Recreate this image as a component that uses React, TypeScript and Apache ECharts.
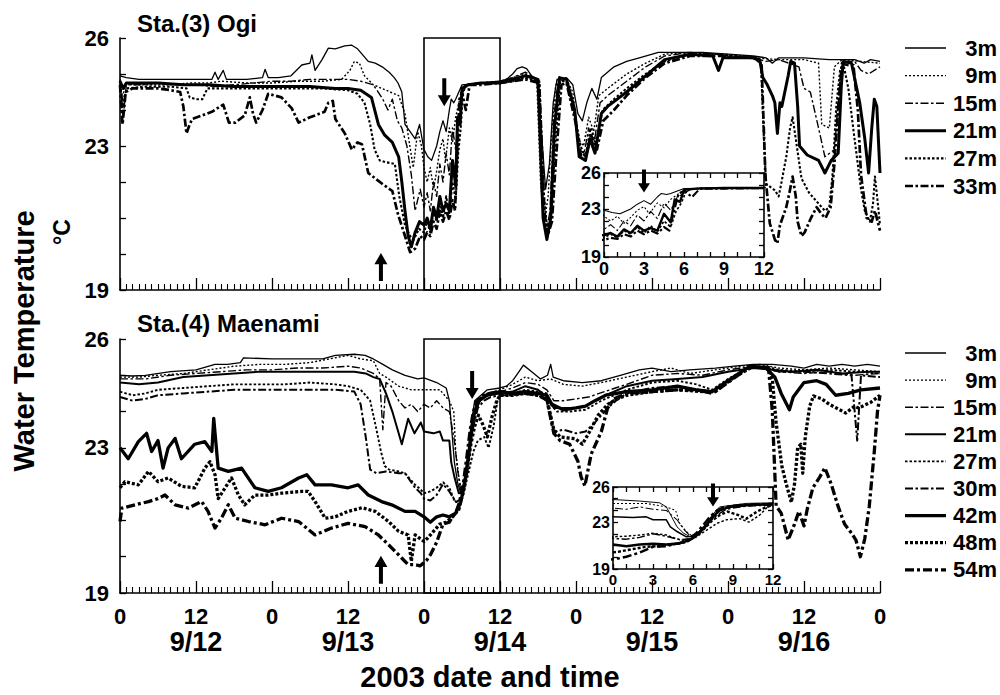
import React, { useEffect, useRef } from 'react';
import * as echarts from 'echarts';

const FONT = '"Liberation Sans", Arial, Helvetica, sans-serif';

// ---------------- Sta.(3) Ogi : [hour from 9/12 0:00, water temperature °C]
const ogiDepths = ['3m', '9m', '15m', '21m', '27m', '33m'];

const ogi3m = [[0,24.95],[1,24.9],[3,24.85],[6,24.85],[9,24.85],[12,24.85],[14.5,24.85],[15,25.05],[15.5,24.85],[16.3,25.1],[16.8,24.85],[20,24.85],[22.5,24.9],[22.9,25.13],[23.4,24.9],[25,24.9],[27,24.95],[28.7,25.25],[30,25.3],[30.3,25.53],[30.8,25.1],[31.9,25.4],[32.9,25.72],[34,25.7],[35.5,25.78],[36.6,25.8],[37.5,25.7],[39.2,25.35],[40.3,25.3],[41.4,25.2],[42.5,25.05],[43.3,24.9],[43.9,24.75],[44.5,24.5],[45,23.6],[46,23.35],[46.6,23.2],[47.3,23.6],[48,22.9],[48.6,22.7],[49.2,22.6],[50,23.0],[50.5,23.4],[51,23.7],[51.5,23.4],[52,24.0],[52.3,24.3],[52.7,24.2],[53,24.3],[53.5,24.5],[54,24.7],[57,24.75],[60,24.8],[61,24.85],[62,25.0],[62.7,25.15],[63.5,25.2],[64.2,25.15],[65,24.95],[65.8,24.85],[66.5,23.5],[67.2,21.8],[67.8,22.5],[68.4,24.2],[69,24.85],[70.5,24.9],[71.5,24.7],[72.3,23.9],[73,23.7],[73.7,24.2],[74.5,24.6],[75.3,24.3],[76,24.9],[78,25.2],[80,25.35],[82,25.45],[85,25.6],[88,25.6],[92,25.6],[96,25.55],[100,25.5],[102,25.45],[103,25.3],[104,25.45],[108,25.45],[112,25.4],[116,25.4],[117.5,25.3],[118.5,25.4],[120,25.35]];

const ogi9m = [[0,24.8],[0.4,24.3],[0.8,24.75],[2,24.7],[5,24.7],[8,24.7],[11,24.75],[14,24.75],[16,24.8],[20,24.75],[24,24.75],[28,24.8],[32,24.8],[35,24.85],[36.3,25.1],[37,25.35],[37.8,25.3],[38.6,24.95],[40,24.7],[42,24.55],[44,24.4],[45,23.9],[45.5,23.3],[46.3,22.4],[47,23.4],[47.6,23.0],[48,22.4],[48.5,22.0],[49,22.4],[49.5,21.8],[50,22.3],[50.5,22.9],[51,23.2],[51.4,22.6],[52,23.5],[52.5,23.1],[53,23.8],[53.5,24.2],[54,24.5],[54.5,24.7],[57,24.75],[60,24.8],[62,24.9],[64,25.0],[65.8,24.85],[66.4,22.0],[67,20.9],[67.6,21.6],[68.2,23.5],[68.8,24.7],[70.5,24.85],[71.5,24.5],[72.3,23.2],[73.2,23.0],[74,23.8],[74.8,23.4],[75.6,24.4],[77,24.6],[80,25.0],[83,25.3],[86,25.55],[90,25.6],[94,25.55],[96,25.5],[100,25.45],[104,25.4],[108,25.4],[110.3,25.3],[110.8,23.6],[112,23.5],[112.8,25.2],[114,25.4],[117,25.35],[120,25.3]];

const ogi15m = [[0,24.85],[0.5,23.8],[1,24.7],[3,24.7],[6,24.75],[9,24.7],[12,24.7],[15,24.65],[18,24.7],[21,24.75],[24,24.8],[27,24.8],[30,24.85],[33,24.85],[36,24.85],[38,24.8],[40,24.7],[41.5,24.3],[42.3,24.0],[43,24.3],[43.8,23.7],[44.5,23.5],[45.3,23.0],[46,22.2],[46.6,21.2],[47.4,21.8],[48,21.3],[48.5,21.7],[49,21.2],[49.5,22.0],[50,21.6],[50.5,22.5],[51,22.0],[51.5,22.8],[52,22.2],[52.5,23.5],[53,22.9],[53.5,24.0],[54,24.3],[54.6,24.7],[57,24.75],[60,24.8],[62,24.9],[64,25.05],[66,24.85],[66.6,21.5],[67.3,20.6],[67.9,21.2],[68.5,23.8],[69.2,24.85],[70.5,24.8],[71.6,24.2],[72.4,22.9],[73.3,22.8],[74,23.5],[74.8,23.0],[75.8,24.2],[77,24.4],[80,24.8],[83,25.2],[86,25.5],[90,25.6],[94,25.55],[100,25.45],[102,25.35],[104,25.4],[107.2,25.2],[108,24.6],[109,24.5],[110.3,23.5],[111.3,22.7],[112.8,22.9],[113.7,24.8],[114.2,25.35],[116,25.35],[117,25.1],[118.2,25.0],[120,25.2]];

const ogi21m = [[0,24.8],[0.5,24.6],[1,24.75],[3,24.75],[6,24.75],[10,24.7],[14,24.7],[18,24.65],[22,24.65],[26,24.65],[30,24.65],[34,24.6],[36,24.6],[38,24.55],[39.7,24.35],[40.8,23.6],[41.8,23.3],[43,23.1],[44,22.7],[44.5,22.0],[45,21.2],[45.5,20.5],[46,20.2],[46.6,20.6],[47.3,20.9],[48,20.8],[48.5,21.0],[49,20.7],[49.5,21.3],[50,21.0],[50.5,21.6],[51,21.2],[51.5,21.4],[52,21.2],[52.5,22.6],[53,21.9],[53.3,23.8],[53.7,23.6],[54,24.6],[55,24.7],[57,24.75],[60,24.75],[62,24.85],[64,24.95],[66,24.85],[66.8,21.0],[67.4,20.4],[68,21.0],[68.6,23.5],[69.4,24.9],[70.5,24.85],[71.8,24.0],[72.5,22.7],[73.5,22.6],[74.2,23.2],[75,22.8],[76,23.9],[77,24.1],[80,24.5],[83,24.95],[86,25.4],[90,25.55],[93.6,25.5],[94.5,25.1],[95.2,25.45],[100,25.45],[101,25.4],[101.5,24.9],[102.2,24.7],[103,24.4],[103.4,24.2],[103.8,23.35],[104.2,24.2],[104.5,24.1],[105.5,24.95],[105.9,25.35],[106.5,25.3],[107,24.1],[107.3,23.0],[108.5,22.75],[110.3,22.6],[111.3,22.25],[112.3,22.6],[113.4,22.8],[113.9,24.7],[114.2,25.35],[115.5,25.3],[116.8,24.2],[117.6,23.2],[118.2,22.25],[118.7,23.5],[119.1,24.3],[119.5,24.1],[120,22.25]];

const ogi27m = [[0,24.7],[0.5,24.1],[1,24.6],[4,24.65],[8,24.65],[10.5,24.6],[11,24.35],[12,24.3],[13,24.3],[13.8,24.6],[16,24.6],[20,24.6],[24,24.6],[28,24.6],[32,24.6],[36,24.55],[37.5,24.45],[38.6,24.2],[39.5,23.6],[40.2,22.9],[41,22.6],[42,22.55],[43.4,22.5],[44.1,21.6],[45,20.8],[45.8,20.5],[46.4,20.4],[47.2,20.7],[48,20.6],[48.5,20.9],[49,20.6],[49.5,21.2],[50,20.9],[50.5,21.5],[51,21.0],[51.5,21.6],[52,21.1],[52.5,22.0],[53,21.5],[53.4,22.8],[53.8,23.5],[54.2,24.6],[55,24.7],[57,24.75],[60,24.75],[62,24.8],[64,24.9],[66.2,24.8],[66.9,21.7],[67.5,20.6],[68.1,21.0],[68.7,23.0],[69.5,24.8],[70.5,24.8],[71.9,23.8],[72.7,23.0],[73.5,22.7],[74.3,23.5],[75.2,23.1],[76.2,24.0],[78,24.3],[80,24.6],[83,25.0],[86,25.35],[90,25.55],[95,25.55],[100,25.45],[101.2,25.3],[101.6,23.5],[102,21.95],[103.4,21.77],[104,21.6],[104.4,21.95],[105.2,22.7],[105.8,23.5],[106.2,23.8],[106.7,23.2],[107.6,22.1],[108.8,21.7],[110.3,21.4],[111.3,21.2],[112,21.3],[112.5,22.2],[113.1,24.1],[113.7,25.1],[114.2,25.3],[115,24.6],[116,23.17],[117,21.8],[117.6,21.2],[118.4,20.9],[118.9,21.4],[119.2,22.15],[119.6,21.5],[120,20.8]];

const ogi33m = [[0,24.7],[0.4,23.6],[0.9,24.5],[2,24.6],[4,24.6],[6,24.6],[8,24.55],[9.5,24.5],[10,24.1],[10.5,23.35],[11,23.6],[11.4,23.75],[13,23.85],[14.5,23.95],[16.3,24.15],[17.2,23.65],[18.2,23.65],[19.7,23.85],[20.5,24.35],[21,23.9],[21.5,23.65],[22.5,24.0],[23.4,24.45],[25.5,24.35],[27.1,24.05],[28.2,23.65],[30,23.8],[30.8,23.85],[32.3,23.95],[32.9,24.2],[33.6,24.25],[34,23.75],[35.5,23.35],[36.6,22.9],[37.5,23.1],[38.2,23.05],[39.2,22.25],[40.3,22.1],[41.4,21.95],[43,21.75],[43.9,21.1],[45,20.5],[45.8,20.05],[46.6,20.15],[47.4,20.5],[48,20.4],[48.5,20.6],[49,20.5],[49.5,20.9],[50,20.7],[50.5,21.2],[51,20.9],[51.5,21.2],[52,20.95],[52.5,21.5],[52.9,21.2],[53.2,22.6],[53.6,24.3],[54,24.5],[54.6,24.0],[55.2,24.7],[57,24.7],[60,24.75],[62,24.8],[64,24.85],[66.2,24.75],[67,21.2],[67.5,20.5],[68.2,20.9],[68.9,22.8],[69.7,24.7],[70.5,24.75],[72,23.6],[72.8,22.7],[73.7,22.8],[74.4,23.3],[75.3,22.9],[76.3,23.7],[78,24.0],[80,24.4],[83,24.9],[86,25.3],[90,25.5],[95,25.5],[100,25.45],[101.3,25.3],[101.9,22.2],[102.6,20.85],[103.4,20.4],[103.8,20.3],[104.2,20.8],[105.2,21.3],[105.7,21.7],[106.2,22.15],[106.7,21.6],[107,20.9],[107.6,20.5],[108.1,20.6],[109.1,21.0],[110,21.3],[110.8,21.1],[111.4,21.0],[112.2,21.3],[112.8,22.5],[113.4,24.1],[114,25.3],[114.8,25.25],[115.8,25.25],[116.5,24.0],[117,22.2],[117.9,21.0],[118.7,20.9],[119.2,21.2],[120,20.65]];

// ---------------- Sta.(4) Maenami
const maeDepths = ['3m', '9m', '15m', '21m', '27m', '30m', '42m', '48m', '54m'];

const mae3m = [[0,25.0],[2,24.98],[4,25.0],[8,25.1],[12,25.15],[15,25.3],[17,25.3],[19,25.35],[19.5,25.48],[24,25.45],[28,25.45],[32,25.45],[34,25.55],[37,25.58],[38.7,25.55],[40,25.45],[41.5,25.3],[43,25.15],[45,25.0],[47,24.9],[48,24.93],[50,24.8],[51.5,24.65],[52,24.3],[52.4,23.45],[52.8,22.6],[53.3,22.05],[53.8,21.75],[54.3,22.05],[55,22.9],[55.5,23.7],[56,24.3],[57,24.45],[58,24.6],[60,24.65],[61,24.7],[62,24.85],[63,25.1],[63.7,25.28],[65,25.1],[66.4,24.9],[67.5,25.0],[68,25.3],[68.4,24.95],[70,24.85],[73,24.8],[76,24.85],[79,25.0],[82,25.15],[84,25.2],[87,25.1],[90,25.15],[94,25.2],[97,25.25],[100,25.3],[103,25.3],[106,25.25],[108,25.2],[110,25.3],[112,25.25],[114,25.3],[116,25.25],[118,25.3],[120,25.25]];

const mae9m = [[0,24.95],[3,24.95],[6,25.0],[10,25.05],[14,25.15],[18,25.25],[22,25.3],[26,25.3],[30,25.35],[33,25.45],[36,25.55],[38,25.45],[40,25.4],[41,25.05],[42,24.95],[44,24.7],[46,24.6],[48,24.6],[50.5,24.6],[52,24.3],[52.7,24.0],[53,22.9],[53.5,22.2],[54,21.75],[54.5,22.2],[55,22.8],[55.5,23.5],[56,24.0],[56.8,24.35],[58,24.5],[60,24.6],[62,24.75],[64,24.95],[66,24.85],[68,24.9],[70,24.75],[73,24.7],[76,24.8],[80,24.95],[84,25.1],[87,25.2],[90,25.05],[94,25.15],[98,25.25],[101,25.3],[104,25.2],[108,25.15],[112,25.2],[116,25.15],[120,25.1]];

const mae15m = [[0,24.9],[4,24.9],[8,25.0],[12,25.05],[16,25.1],[20,25.15],[24,25.15],[28,25.2],[32,25.2],[36,25.25],[38,25.2],[40,25.05],[41,24.9],[41.5,23.5],[42,24.8],[42.8,24.7],[44,24.3],[45,24.1],[46,24.2],[47,24.0],[48,24.2],[49,24.1],[50,24.3],[51,24.1],[52,24.0],[52.8,23.2],[53.3,22.4],[53.8,21.8],[54.4,22.1],[55,22.8],[55.6,23.6],[56.2,24.2],[57,24.4],[58,24.5],[60,24.55],[62,24.65],[64,24.8],[66,24.75],[67.4,24.6],[68.5,24.3],[70,24.3],[72,24.35],[74,24.4],[76.5,24.55],[80,24.75],[84,25.0],[88,25.05],[92,25.0],[96,25.15],[100,25.25],[104,25.1],[108,25.05],[112,25.1],[116,25.0],[120,25.05]];

const mae21m = [[0,24.8],[3,24.75],[6,24.8],[10,24.95],[14,25.0],[18,25.05],[22,25.1],[26,25.1],[30,25.1],[34,25.1],[37,25.1],[38.8,25.05],[40,24.95],[41,24.9],[42,24.5],[43,24.0],[44,23.4],[44.5,23.1],[45.5,23.8],[46.5,23.4],[47.5,23.7],[48,23.45],[49.5,23.4],[50.5,23.45],[51,23.2],[52,23.2],[52.3,22.6],[52.8,22.2],[53.5,21.75],[54.2,21.8],[54.8,22.5],[55.4,23.3],[56,24.0],[57,24.35],[58,24.45],[60,24.5],[62,24.55],[64,24.7],[66,24.6],[67.4,24.4],[68.5,24.1],[70,24.1],[72,24.1],[73.5,24.15],[75,24.3],[76.7,24.45],[80,24.7],[84,24.85],[88,24.9],[92,24.95],[96,25.1],[100,25.2],[103,25.15],[106,25.1],[110,25.15],[114,25.05],[118,25.1],[120,25.1]];

const mae27m = [[0,24.55],[2,24.45],[4,24.5],[6,24.6],[10,24.65],[14,24.7],[18,24.75],[22,24.75],[26,24.75],[30,24.8],[34,24.75],[36,24.7],[38,24.6],[39.5,24.3],[40.5,23.5],[41.2,22.9],[41.8,22.5],[42.5,22.4],[44,22.35],[45,22.3],[46.5,22.0],[47.5,21.85],[48,21.75],[49,21.8],[50,21.9],[51,22.05],[52,21.9],[52.7,21.6],[53.5,21.4],[54.2,21.7],[55,22.3],[55.8,22.9],[56.5,23.2],[57.5,23.3],[58.2,23.0],[59,23.6],[59.6,24.3],[60,24.45],[62,24.5],[64,24.6],[66,24.55],[67.4,24.5],[68,24.2],[69,24.0],[71,24.0],[73.5,24.05],[76,24.3],[78,24.45],[80,24.6],[84,24.8],[88,24.85],[91,24.75],[93.5,24.6],[96,24.9],[99,25.2],[102,25.25],[104,25.15],[108,25.1],[112,25.15],[116,25.1],[120,25.05]];

const mae30m = [[0,24.4],[2,24.3],[4,24.35],[6,24.45],[10,24.5],[14,24.55],[18,24.6],[22,24.6],[26,24.6],[30,24.6],[34,24.6],[37,24.55],[38,24.2],[38.8,23.3],[39.5,22.4],[40.5,22.3],[42,22.35],[44,22.3],[45,22.3],[46.6,21.9],[47.5,21.75],[48,21.6],[49,21.55],[50,21.7],[51,22.0],[52,21.8],[53,21.5],[54,21.6],[54.6,22.2],[55.2,23.0],[55.8,23.6],[56.5,24.1],[57.5,24.3],[58.5,24.4],[60,24.45],[62,24.45],[64,24.5],[66,24.45],[67.4,24.3],[68,23.8],[68.5,23.45],[70,23.5],[72,23.4],[73.5,23.45],[75,23.7],[77,24.1],[78.3,24.3],[80,24.5],[84,24.65],[88,24.7],[91,24.6],[93.5,24.55],[96,24.85],[99,25.2],[102,25.2],[104,25.1],[108,25.1],[112,25.05],[115.5,25.0],[116.4,23.2],[117,25.0],[120,24.95]];

const mae42m = [[0,23.0],[1.3,22.7],[2.9,23.17],[4.2,23.4],[5,22.9],[6,23.2],[6.8,22.44],[7.6,23.0],[8.7,23.26],[9.7,22.7],[11.8,23.1],[13.4,23.17],[14.5,22.9],[14.8,23.81],[15.5,22.44],[17.1,22.35],[19.2,22.44],[21.3,21.9],[23.4,21.8],[25.5,21.9],[28.2,22.17],[29.5,22.26],[30.8,21.98],[33.4,21.98],[36,21.9],[37.6,21.98],[39.2,21.7],[41.3,21.52],[42.9,21.43],[45,21.25],[46.6,21.25],[48,21.1],[49,20.95],[50,21.1],[51,21.15],[52,21.1],[53,21.2],[53.8,21.5],[54.4,22.0],[55,22.7],[55.5,23.5],[56,24.0],[56.7,24.3],[58,24.45],[60,24.55],[62,24.5],[64,24.55],[66,24.5],[67.4,24.45],[68.2,24.2],[70,24.05],[72,24.1],[73.5,24.15],[75,24.3],[76.7,24.45],[80,24.55],[84,24.6],[88,24.7],[91,24.6],[93.5,24.55],[96,24.85],[99.5,25.25],[102,25.2],[103.4,24.95],[104.4,24.5],[105.7,24.05],[106.3,24.4],[108,24.8],[110,24.85],[111.5,24.75],[113,24.45],[115,24.5],[117,24.6],[120,24.65]];

const mae48m = [[0,21.9],[0.8,22.07],[2.9,21.98],[4.5,22.35],[6,22.07],[7.6,22.17],[9.7,21.94],[11.8,21.9],[13.4,22.44],[14.2,22.62],[15,22.26],[15.5,21.6],[16.6,21.9],[17.6,22.17],[18.7,21.7],[19.7,21.43],[21.3,21.7],[23.4,21.7],[25.5,21.75],[28.7,21.8],[29.7,21.8],[30.8,21.52],[32.4,21.06],[34,21.1],[36,21.25],[38.2,21.35],[40.3,21.25],[42.4,20.97],[44,20.7],[45.5,20.6],[46,19.87],[46.6,20.6],[48,20.42],[48.5,20.5],[49.5,20.7],[50.5,20.9],[51.5,20.95],[52.5,21.1],[53.5,21.3],[54.2,21.8],[54.8,22.4],[55.4,23.1],[56,23.6],[56.6,23.9],[57.4,23.6],[58,23.3],[58.8,23.9],[59.5,24.3],[60,24.45],[62,24.45],[64,24.5],[66,24.45],[67.4,24.35],[68.5,23.5],[69.5,23.3],[71.9,23.25],[73,23.1],[74,23.4],[75.5,23.9],[77,24.2],[78.5,24.35],[80,24.45],[84,24.55],[88,24.6],[92,24.55],[94,24.55],[97,24.95],[100,25.25],[102.4,25.2],[103,24.9],[103.6,23.7],[104.5,22.5],[105.2,22.0],[106,21.5],[106.5,22.0],[107,23.0],[107.5,23.1],[107.8,22.3],[108.2,23.3],[108.9,24.15],[109.5,24.43],[110.8,24.35],[112,24.2],[114.6,23.96],[116,24.15],[116.6,24.1],[118.5,24.25],[120,24.45]];

const mae54m = [[0,20.97],[0.3,21.34],[2.4,21.43],[4.5,21.52],[6,21.6],[7.1,21.7],[8.7,21.43],[10.8,21.34],[12.9,21.52],[13.9,21.25],[15,20.79],[16,21.06],[17.1,21.43],[18.2,21.06],[20.3,20.97],[22.9,20.88],[25.5,21.06],[28.2,20.97],[30.8,20.6],[33.4,20.79],[36,20.92],[38.7,20.83],[40.8,20.6],[42.4,20.33],[44,20.05],[45.5,19.78],[46.6,19.78],[47.4,19.75],[48.4,19.9],[49,20.05],[50,20.4],[51,20.9],[52,20.95],[52.5,21.1],[53,21.2],[53.6,21.5],[54.2,22.0],[54.8,22.8],[55.3,23.5],[55.8,24.0],[56.3,24.27],[57.4,24.45],[58.4,24.5],[60,24.55],[62,24.5],[64,24.5],[66,24.45],[67.4,24.32],[68.5,23.4],[69.5,23.2],[71,23.1],[72.3,22.63],[72.8,22.2],[73.4,21.95],[74.4,22.83],[76,23.45],[77,24.1],[78,24.35],[80,24.5],[84,24.55],[88,24.6],[91,24.6],[93.5,24.5],[96,24.8],[99.5,25.25],[102.4,25.2],[103,24.0],[103.6,21.4],[104.4,21.2],[105.5,20.46],[106.5,20.9],[107.2,21.25],[108,20.85],[108.5,21.3],[109.4,21.9],[110.5,22.2],[111.3,22.45],[112.3,22.0],[113.4,21.38],[114.4,20.9],[115.5,20.65],[116.2,20.46],[116.9,20.0],[117.6,20.5],[118.3,21.38],[119.1,22.9],[119.6,24.0],[120,24.45]];

// ---------------- axes / annotations
const dayLabels = ['9/12', '9/13', '9/14', '9/15', '9/16'];
const yLabelValues = [19, 23, 26];
const insetXLabelStep = 3;
const boxHours = [48, 60]; // 9/14 0:00 - 12:00, enlarged in the insets
// arrows: [hour, °C, direction]
const ogiArrows = [[51.2, 24.49, 'down'], [41.2, 19.64, 'up']];
const maeArrows = [[55.6, 24.73, 'down'], [41.2, 19.64, 'up']];
const ogiInsetArrows = [[3.0, 25.33, 'down']];
const maeInsetArrows = [[7.5, 25.32, 'down']];

const ogiData = [ogi3m, ogi9m, ogi15m, ogi21m, ogi27m, ogi33m];
const maeData = [mae3m, mae9m, mae15m, mae21m, mae27m, mae30m, mae42m, mae48m, mae54m];

const DOT = [2, 2];
const DASHDOT = [8, 2.5, 2.5, 2.5];
const ogiStyles = [
  { w: 1.3, dash: null }, { w: 1.4, dash: DOT }, { w: 1.4, dash: DASHDOT },
  { w: 3, dash: null }, { w: 2.1, dash: [2.5, 2] }, { w: 2.7, dash: DASHDOT },
];
const maeStyles = [
  { w: 1.3, dash: null }, { w: 1.4, dash: DOT }, { w: 1.4, dash: DASHDOT },
  { w: 2, dash: null }, { w: 1.9, dash: [2.5, 2] }, { w: 2, dash: DASHDOT },
  { w: 3.3, dash: null }, { w: 3.3, dash: [3, 2] }, { w: 3.3, dash: [9, 3, 3, 3] },
];

function lineSeries(name, data, st, xi, yi, scale, extra) {
  return Object.assign({
    type: 'line', name, data, xAxisIndex: xi, yAxisIndex: yi,
    symbol: 'none', silent: true, animation: false,
    lineStyle: { color: '#000', width: st.w * scale, type: st.dash ? st.dash : 'solid', join: 'round' },
  }, extra || {});
}

function windowOf(data) {
  return data.filter((p) => p[0] >= boxHours[0] - 1 && p[0] <= boxHours[1] + 1).map((p) => [p[0] - boxHours[0], p[1]]);
}

const axisLineStyle = { color: '#000', width: 1.6 };
const labelBase = { color: '#000', fontFamily: FONT, fontWeight: 'bold' };

function mainX(grid, withLabels) {
  return {
    type: 'value', gridIndex: grid, min: 0, max: 120, interval: 12,
    axisLine: { show: true, onZero: false, lineStyle: axisLineStyle },
    axisTick: { show: true, inside: true, length: 12, lineStyle: { color: '#000', width: 1.3 } },
    minorTick: { show: true, splitNumber: 12, length: 6, lineStyle: { color: '#000', width: 1.1 } },
    splitLine: { show: false }, minorSplitLine: { show: false },
    axisLabel: withLabels ? {
      show: true, margin: 11,
      formatter: (v) => {
        const h = v % 24;
        const d = Math.floor(v / 24);
        return h === 12 ? '{n|12}\n{d|' + dayLabels[d] + '}' : '{n|0}\n{d| }';
      },
      rich: {
        n: Object.assign({ fontSize: 22, lineHeight: 24 }, labelBase),
        d: Object.assign({ fontSize: 27, lineHeight: 28 }, labelBase),
      },
    } : { show: false },
  };
}
function mainY(grid) {
  return {
    type: 'value', gridIndex: grid, min: 19, max: 26, interval: 1,
    axisLine: { show: true, onZero: false, lineStyle: axisLineStyle },
    axisTick: { show: true, inside: true, length: 6, lineStyle: { color: '#000', width: 1.3 } },
    splitLine: { show: false },
    axisLabel: Object.assign({ margin: 11, fontSize: 22, formatter: (v) => (yLabelValues.indexOf(v) >= 0 ? String(v) : '') }, labelBase),
  };
}
function insetX(grid, pos, fontSize) {
  return {
    type: 'value', gridIndex: grid, min: 0, max: 12, interval: 1, position: pos,
    axisLine: { show: true, onZero: false, lineStyle: axisLineStyle },
    axisTick: { show: true, inside: true, length: 5, lineStyle: { color: '#000', width: 1.3 } },
    splitLine: { show: false },
    axisLabel: pos === 'bottom'
      ? Object.assign({ margin: 3, fontSize, formatter: (v) => (v % insetXLabelStep === 0 ? String(v) : '') }, labelBase)
      : { show: false },
  };
}
function insetY(grid, pos, fontSize) {
  return {
    type: 'value', gridIndex: grid, min: 19, max: 26, interval: 1, position: pos,
    axisLine: { show: true, onZero: false, lineStyle: axisLineStyle },
    axisTick: { show: true, inside: true, length: 5, lineStyle: { color: '#000', width: 1.3 } },
    splitLine: { show: false },
    axisLabel: pos === 'left'
      ? Object.assign({ margin: 3, fontSize, formatter: (v) => (yLabelValues.indexOf(v) >= 0 ? String(v) : '') }, labelBase)
      : { show: false },
  };
}

function boxMark() {
  return {
    silent: true,
    itemStyle: { color: 'rgba(0,0,0,0)', borderColor: '#000', borderWidth: 1.6 },
    label: { show: false },
    data: [[{ coord: [boxHours[0], 19] }, { coord: [boxHours[1], 26] }]],
  };
}

function buildOption() {
  const series = [];
  ogiData.forEach((d, i) => series.push(lineSeries('Ogi ' + ogiDepths[i], d, ogiStyles[i], 0, 0, 1, i === 0 ? { markArea: boxMark() } : null)));
  maeData.forEach((d, i) => series.push(lineSeries('Maenami ' + maeDepths[i], d, maeStyles[i], 1, 1, 1, i === 0 ? { markArea: boxMark() } : null)));
  ogiData.forEach((d, i) => series.push(lineSeries('Ogi inset ' + ogiDepths[i], windowOf(d), ogiStyles[i], 2, 2, 0.8)));
  maeData.forEach((d, i) => series.push(lineSeries('Maenami inset ' + maeDepths[i], windowOf(d), maeStyles[i], 4, 4, 0.75)));
  return {
    animation: false,
    backgroundColor: '#fff',
    grid: [
      { left: 120, top: 38, width: 760, height: 252 },
      { left: 120, top: 339, width: 760, height: 254 },
      { left: 604, top: 173, width: 160, height: 84 },
      { left: 613, top: 487, width: 160, height: 82 },
    ],
    xAxis: [mainX(0, false), mainX(1, true), insetX(2, 'bottom', 18), insetX(2, 'top', 18), insetX(3, 'bottom', 15), insetX(3, 'top', 15)],
    yAxis: [mainY(0), mainY(1), insetY(2, 'left', 18), insetY(2, 'right', 18), insetY(3, 'left', 16), insetY(3, 'right', 16)],
    series,
  };
}

function textEl(text, x, y, size, opts) {
  return Object.assign({
    type: 'text', x, y, silent: true,
    style: Object.assign({ text, fill: '#000', fontSize: size, fontWeight: 'bold', fontFamily: FONT, align: 'left', verticalAlign: 'middle' }, (opts && opts.style) || {}),
  }, opts && opts.rotation ? { rotation: opts.rotation } : {});
}

function legendEls(depths, styles, y0, gap) {
  const els = [];
  depths.forEach((name, i) => {
    const y = y0 + i * gap;
    const st = styles[i];
    els.push({ type: 'line', silent: true, shape: { x1: 905, y1: y, x2: 946, y2: y }, style: { stroke: '#000', lineWidth: st.w, lineDash: st.dash || null } });
    els.push(textEl(name, 997, y, 22, { style: { align: 'right' } }));
  });
  return els;
}

function arrowEl(cx, cy, dir, h, w) {
  const s = dir === 'down' ? 1 : -1;
  const half = h / 2;
  const headStart = half - h * 0.4;
  const pts = [
    [cx - 2, cy - s * half], [cx + 2, cy - s * half], [cx + 2, cy + s * headStart],
    [cx + w / 2, cy + s * headStart], [cx, cy + s * half], [cx - w / 2, cy + s * headStart], [cx - 2, cy + s * headStart],
  ];
  return { type: 'polygon', silent: true, shape: { points: pts }, style: { fill: '#000' } };
}

export default function App() {
  const ref = useRef(null);
  useEffect(() => {
    const el = ref.current;
    if (!el) return undefined;
    const chart = echarts.init(el, null, { renderer: 'svg' });
    chart.setOption(buildOption());

    const els = [];
    els.push(textEl('Sta.(3) Ogi', 137, 23, 24));
    els.push(textEl('Sta.(4) Maenami', 137, 323, 24));
    els.push(textEl('Water Temperature', 24, 341, 29, { rotation: Math.PI / 2, style: { align: 'center' } }));
    els.push(textEl('°C', 62, 232, 23, { rotation: Math.PI / 2, style: { align: 'center' } }));
    els.push(textEl('2003 date and time', 490, 677, 29, { style: { align: 'center' } }));
    legendEls(ogiDepths, ogiStyles, 48, 27.6).forEach((e) => els.push(e));
    legendEls(maeDepths, maeStyles, 353, 27.1).forEach((e) => els.push(e));

    const addArrows = (list, axisIdx, h, w) => {
      list.forEach((a) => {
        const p = chart.convertToPixel({ xAxisIndex: axisIdx, yAxisIndex: axisIdx }, [a[0], a[1]]);
        if (p) els.push(arrowEl(p[0], p[1], a[2], h, w));
      });
    };
    addArrows(ogiArrows, 0, 28, 13);
    addArrows(maeArrows, 1, 28, 13);
    addArrows(ogiInsetArrows, 2, 23, 12);
    addArrows(maeInsetArrows, 4, 23, 12);

    chart.setOption({ graphic: { elements: els } });
    return () => chart.dispose();
  }, []);
  return <div ref={ref} style={{ position: 'absolute', left: 0, top: 0, width: 1000, height: 695, background: '#fff' }} />;
}
